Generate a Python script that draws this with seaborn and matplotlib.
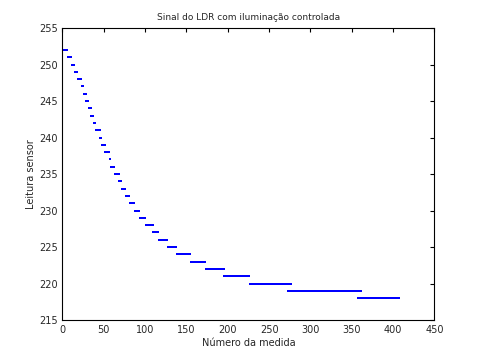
import numpy as np
import pandas as pd
import seaborn as sns
import matplotlib.pyplot as plt

# Sensor levels (runs of equal readings)
levels = [252, 251, 250, 249, 248, 247, 246, 245, 244, 243, 242, 241, 240,
          239, 238, 237, 236, 235, 234, 233, 232, 231, 230, 229, 228, 227,
          226, 225, 224, 223, 222, 221, 220, 219, 220, 219, 220, 219, 218,
          219, 218, 219, 218]
counts = [6, 5, 3, 4, 5, 2, 3, 3, 3, 3, 3, 5, 2,
          4, 5, 2, 5, 5, 3, 5, 5, 6, 6, 7, 9, 7,
          11, 11, 16, 19, 22, 31, 46, 1, 1, 1, 1, 81, 1,
          1, 1, 1, 46]

readings = np.repeat(levels, counts)
df = pd.DataFrame({'medida': np.arange(1, len(readings) + 1),
                   'leitura': readings})

sns.set_style('white')
plt.rcParams['font.family'] = ['DejaVu Sans']
plt.rcParams['xtick.direction'] = 'in'
plt.rcParams['ytick.direction'] = 'in'
plt.rcParams['xtick.top'] = True
plt.rcParams['ytick.right'] = True

fig = plt.figure(figsize=(4.8, 3.6), dpi=100)
ax = fig.add_axes([0.13, 0.111, 0.775, 0.811])

sns.scatterplot(data=df, x='medida', y='leitura', color='blue', s=0.8,
                marker='s', linewidth=0, ax=ax)

ax.set_xlim(0, 450)
ax.set_ylim(215, 255)
ax.set_xticks(np.arange(0, 451, 50))
ax.set_yticks(np.arange(215, 256, 5))
ax.tick_params(labelsize=7, length=3, width=0.8, color='black')
for s in ax.spines.values():
    s.set_color('black')
    s.set_linewidth(0.8)

ax.set_title('Sinal do LDR com iluminação controlada', fontsize=6.5)
ax.set_xlabel('Número da medida', fontsize=7, labelpad=2)
ax.set_ylabel('Leitura sensor', fontsize=7, labelpad=2)

fig.savefig('out.png', dpi=100)
